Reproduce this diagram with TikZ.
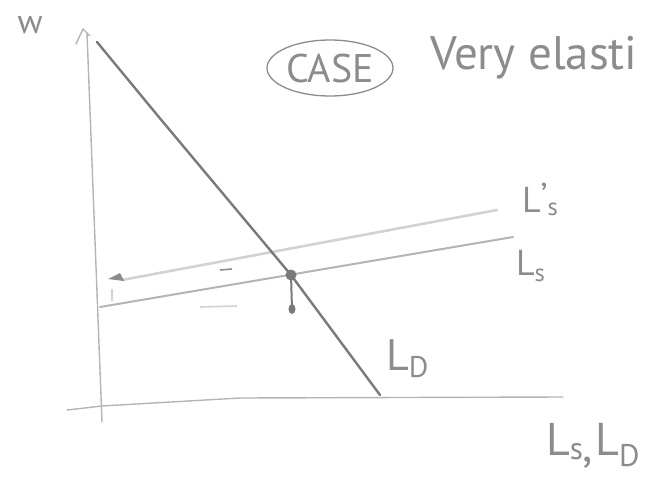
\documentclass[tikz,border=0pt]{standalone}
\usepackage{fontspec}
\usepackage{graphicx}
\setmainfont{PT Sans}
\usetikzlibrary{shapes.geometric}
\definecolor{ink}{HTML}{8C8C8C}
\definecolor{inkdark}{HTML}{7A7A7A}
\definecolor{inklight}{HTML}{B4B4B4}
\definecolor{inkfaint}{HTML}{D2D2D2}
\newcommand\lowsub[2]{\raisebox{#1}{\scalebox{0.68}{#2}}}
\tikzset{
  axisline/.style={draw=inklight, line width=1.4pt, line cap=round, line join=round},
  demandline/.style={draw=inkdark, line width=2.4pt, line cap=round, line join=round},
  supplyline/.style={draw=inklight, line width=2pt, line cap=round},
  shiftline/.style={draw=inkfaint, line width=2.6pt, line cap=round},
  hand/.style={text=ink, inner sep=0pt, outer sep=0pt},
}
\begin{document}
\begin{tikzpicture}[x=1pt,y=-1pt]
\useasboundingbox (0,0) rectangle (669,495);
\clip (0,0) rectangle (669,495);
% coordinates
\coordinate (ytop) at (87,33);
\coordinate (ybot) at (102,422);
\coordinate (xleft) at (67,410);
\coordinate (xright) at (563,397);
\coordinate (dtop) at (97,42);
\coordinate (dbot) at (380,395);
\coordinate (sleft) at (100,307);
\coordinate (sright) at (513,237);
\coordinate (spleft) at (122,280);
\coordinate (spright) at (497,210);
\coordinate (eq) at (291,275);
\coordinate (eqlow) at (292,309);
% axes
\draw[axisline] (ybot) -- (ytop);
\draw[axisline] (76,44) -- (83,29) -- (90,36);
\draw[axisline] (xleft) -- (102,406) -- (240,398) -- (xright);
% supply lines
\draw[shiftline] (spleft) -- (spright);
\fill[ink] (108,279) -- (120,273) -- (124,281) -- cycle;
\draw[supplyline] (sleft) -- (sright);
% demand
\draw[demandline] (dtop) -- (158,116) -- (eq) -- (dbot);
% equilibrium
\fill[inkdark] (eq) circle (5.5pt);
\draw[inkdark, line width=2pt] (eq) -- (eqlow);
\fill[inkdark] (eqlow) ellipse (3.5pt and 5pt);
% small marks
\draw[ink, line width=1.6pt] (220,270) -- (232,269);
\draw[inkfaint, line width=1.6pt] (200,307) -- (237,306);
\draw[inkfaint, line width=1.4pt] (112,289) -- (112,301);
% labels
\node[hand, anchor=base, font=\fontsize{34}{34}\selectfont] (wlab) at (30,34) {w};
\node[hand, draw=ink, line width=1.3pt, ellipse, minimum width=126pt, minimum height=56pt, font=\fontsize{40}{40}\selectfont] (case) at (330,68) {CASE};
\node[hand, anchor=base west, font=\fontsize{47}{47}\selectfont] (title) at (430,70) {Very elasti};
\node[hand, anchor=base west, font=\fontsize{36}{36}\selectfont] (lsp) at (522,212) {L\raisebox{4pt}{'}\lowsub{-3pt}{s}};
\node[hand, anchor=base west, font=\fontsize{36}{36}\selectfont] (ls) at (516,275) {L\lowsub{-6pt}{s}};
\node[hand, anchor=base west, font=\fontsize{44}{44}\selectfont] (ld) at (386,370) {L\lowsub{-7pt}{D}};
\node[hand, anchor=base west, font=\fontsize{46}{46}\selectfont] (axlab) at (546,455) {L\lowsub{-4pt}{s}\raisebox{-6pt}{,}\kern2pt L\lowsub{-11pt}{D}};
\end{tikzpicture}
\end{document}
